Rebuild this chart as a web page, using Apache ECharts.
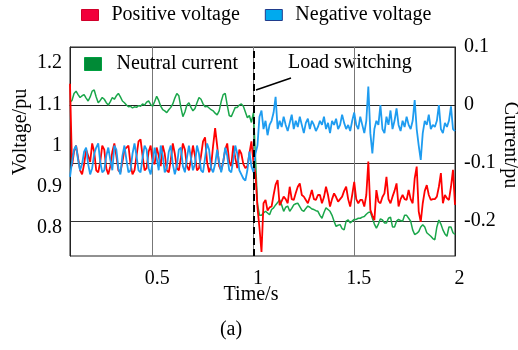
<!DOCTYPE html>
<html><head><meta charset="utf-8">
<script src="https://cdn.jsdelivr.net/npm/echarts@6/dist/echarts.min.js"></script>
<style>html,body{margin:0;padding:0;background:#fff}#c{width:518px;height:350px}</style>
</head><body><div id="c"></div>
<script>
// sampling of the traces (time axis, seconds)
const tStart = 0.09, tStep = 0.01;

const positiveVoltage = [
 1.15,0.95,0.985,1.0,0.97,0.94,0.93,0.955,0.99,0.975,
 0.96,1.005,0.985,0.94,0.935,0.96,1.0,0.99,0.945,0.93,
 0.95,0.985,1.005,0.975,0.94,0.935,0.96,0.99,0.995,1.0,
 0.955,0.93,0.94,0.975,1.01,1.015,0.975,0.94,0.945,0.985,
 1.0,0.96,0.955,0.995,0.975,0.95,1.0,0.98,0.94,0.935,
 0.965,1.005,0.98,0.945,0.94,0.97,1.005,0.99,0.95,0.94,
 0.965,1.0,0.975,0.94,0.945,0.975,1.01,1.02,0.96,0.935,
 0.95,1.0,1.042,1.0,0.95,0.94,0.96,0.99,1.005,0.96,
 0.95,1.0,0.97,0.945,0.99,0.98,0.955,0.945,0.95,0.98,
 1.01,0.96,
 0.93,0.85,0.80,0.742,0.86,0.868,0.842,0.85,0.852,0.88,
 0.905,0.916,0.855,0.865,0.876,0.87,0.86,0.9,0.87,0.868,
 0.885,0.9,0.908,0.88,0.876,0.868,0.86,0.875,0.892,0.87,
 0.868,0.88,0.88,0.86,0.875,0.9,0.88,0.852,0.87,0.884,
 0.875,0.864,0.87,0.876,0.89,0.9,0.87,0.852,0.88,0.912,
 0.87,0.86,0.868,0.868,0.852,0.88,0.961,0.844,0.83,0.819,
 0.892,0.864,0.86,0.875,0.884,0.924,0.87,0.86,0.876,0.89,
 0.908,0.852,0.87,0.88,0.87,0.868,0.892,0.87,0.86,0.92,
 0.949,0.84,0.815,0.86,0.89,0.904,0.88,0.868,0.87,0.87,
 0.876,0.9,0.933,0.86,0.88,0.872,0.868,0.9,0.941,0.856
];

const negativeVoltage = [
 0.924,0.96,0.99,1.0,0.965,0.94,0.955,0.985,0.995,0.955,
 0.93,0.945,0.98,0.995,1.005,0.96,0.935,0.94,0.975,0.995,
 0.965,0.94,1.0,0.99,0.945,0.93,0.975,1.0,0.965,0.935,
 0.94,0.98,1.005,0.975,0.94,0.935,0.97,1.0,0.99,0.945,
 0.93,0.96,0.995,0.97,0.94,1.0,0.975,0.935,0.945,0.985,
 1.0,0.955,0.93,0.95,0.99,0.995,0.95,0.935,0.97,1.0,
 0.97,0.94,0.955,1.0,0.98,0.94,0.935,0.97,1.005,0.99,
 0.945,0.935,0.955,0.99,0.96,0.935,0.96,0.995,0.975,0.94,
 0.935,0.965,1.0,0.98,0.94,0.93,0.92,0.915,0.94,0.985,
 0.95,0.935,
 0.98,1.0,1.07,1.085,1.04,1.06,1.025,1.05,1.06,1.08,
 1.118,1.04,1.06,1.045,1.07,1.05,1.035,1.055,1.075,1.04,
 1.06,1.045,1.07,1.05,1.03,1.055,1.065,1.04,1.06,1.05,
 1.035,1.045,1.06,1.05,1.07,1.04,1.055,1.03,1.06,1.05,
 1.065,1.04,1.05,1.075,1.055,1.04,1.05,1.035,1.06,1.08,
 1.05,1.04,1.07,1.05,1.03,1.06,1.143,1.03,0.981,1.04,
 1.06,1.05,1.098,1.04,1.03,1.07,1.05,1.085,1.04,1.06,
 1.09,1.05,1.035,1.06,1.045,1.07,1.05,1.04,1.06,1.11,
 1.04,1.0,0.965,1.03,1.06,1.05,1.075,1.04,1.05,1.045,
 1.06,1.098,1.04,1.03,1.055,1.045,1.06,1.095,1.04,1.035
];

const neutralCurrent = [
 0.005,0.008,0.02,0.024,0.018,0.013,0.016,0.018,0.012,0.007,
 0.014,0.024,0.026,0.014,0.004,0.008,0.013,0.01,0.004,0.0,
 0.006,0.013,0.01,0.016,0.02,0.014,0.007,0.004,0.0,-0.003,
 -0.002,-0.005,-0.003,-0.004,-0.001,-0.002,0.002,0.0,0.005,0.007,
 0.001,-0.002,0.006,0.015,0.008,-0.002,-0.008,-0.01,-0.013,-0.008,
 -0.004,0.002,0.012,0.02,0.016,-0.004,-0.02,-0.012,0.0,0.004,
 -0.004,-0.01,-0.006,0.004,0.013,0.01,0.002,-0.003,-0.002,-0.005,
 -0.008,-0.01,-0.014,-0.017,-0.01,0.006,0.018,0.02,0.0,-0.018,
 -0.02,-0.012,-0.004,-0.004,0.0,0.002,-0.002,-0.012,-0.022,-0.018,
 -0.03,-0.013,
 -0.09,-0.17,-0.19,-0.19,-0.186,-0.183,-0.186,-0.189,-0.18,-0.177,
 -0.172,-0.168,-0.163,-0.172,-0.183,-0.176,-0.174,-0.183,-0.178,-0.172,
 -0.17,-0.169,-0.175,-0.181,-0.183,-0.178,-0.174,-0.176,-0.179,-0.18,
 -0.182,-0.183,-0.19,-0.195,-0.185,-0.177,-0.18,-0.183,-0.19,-0.2,
 -0.209,-0.207,-0.206,-0.213,-0.215,-0.2,-0.198,-0.203,-0.2,-0.197,
 -0.197,-0.195,-0.195,-0.193,-0.192,-0.188,-0.185,-0.184,-0.195,-0.205,
 -0.212,-0.205,-0.196,-0.198,-0.203,-0.203,-0.195,-0.193,-0.21,-0.21,
 -0.2,-0.197,-0.199,-0.2,-0.19,-0.19,-0.195,-0.2,-0.215,-0.223,
 -0.221,-0.218,-0.21,-0.206,-0.21,-0.22,-0.223,-0.226,-0.23,-0.232,
 -0.21,-0.198,-0.205,-0.215,-0.222,-0.226,-0.21,-0.21,-0.22,-0.223
];

const xTicks = [0.5, 1, 1.5, 2];
const leftTicks = [0.8, 0.9, 1, 1.1, 1.2];
const rightTicks = [0.1, 0, -0.1, -0.2];
const switchTime = 1;

const FONT = "'Liberation Serif','Times New Roman',serif";
function pairs(arr){ return arr.map((v,i)=>[+(tStart + i*tStep).toFixed(2), v]); }

const chart = echarts.init(document.getElementById('c'), null, {renderer:'canvas'});
chart.setOption({
  animation:false,
  backgroundColor:'#fff',
  grid:{left:70,right:63,top:47,bottom:94,show:true,borderColor:'#222',borderWidth:1,backgroundColor:'transparent'},
  legend:[
    {left:76,top:0,icon:'rect',itemWidth:17,itemHeight:11,itemGap:25,selectedMode:false,
     textStyle:{fontSize:20,fontFamily:FONT,color:'#000',padding:[0,0,0,8]},
     data:[
       {name:'Positive voltage',itemStyle:{color:'#f2003c',borderColor:'#d0002a',borderWidth:1}},
       {name:'Negative voltage',itemStyle:{color:'#00aaee',borderColor:'#203c8c',borderWidth:1}}
     ]},
    {left:79,top:49,icon:'rect',itemWidth:17,itemHeight:13,selectedMode:false,
     textStyle:{fontSize:20,fontFamily:FONT,color:'#000',padding:[0,0,0,10]},
     data:[{name:'Neutral current',itemStyle:{color:'#008a36',borderColor:'#00a040',borderWidth:1}}]}
  ],
  xAxis:{type:'value',min:0.09,max:2,
    axisLine:{show:true,lineStyle:{color:'#222',width:1}},
    axisTick:{show:false,customValues:xTicks},
    axisLabel:{customValues:xTicks,fontSize:20,fontFamily:FONT,color:'#000',margin:13,padding:[0,0,0,9]},
    splitLine:{show:true,lineStyle:{color:'#777',width:1}}},
  yAxis:[
    {type:'value',min:0.732,max:1.239,position:'left',
     axisLine:{show:true,lineStyle:{color:'#222',width:1}},
     axisTick:{show:false,customValues:leftTicks},
     axisLabel:{customValues:leftTicks,fontSize:20,fontFamily:FONT,color:'#000',margin:8},
     splitLine:{show:false}},
    {type:'value',min:-0.26,max:0.1,position:'right',
     axisLine:{show:true,lineStyle:{color:'#222',width:1}},
     axisTick:{show:false,customValues:rightTicks},
     axisLabel:{customValues:rightTicks,fontSize:20,fontFamily:FONT,color:'#000',margin:9},
     splitLine:{show:true,lineStyle:{color:'#333',width:1}}}
  ],
  series:[
    {name:'Neutral current',type:'line',yAxisIndex:1,showSymbol:false,
     data:pairs(neutralCurrent),lineStyle:{color:'#1aa64a',width:1.5},itemStyle:{color:'#008a36'}},
    {name:'Positive voltage',type:'line',yAxisIndex:0,showSymbol:false,
     data:pairs(positiveVoltage),lineStyle:{color:'#ff0000',width:1.8},itemStyle:{color:'#f2003c'},
     markLine:{silent:true,symbol:'none',label:{show:false},
       lineStyle:{color:'#000',type:[7,4],width:2},data:[{xAxis:switchTime}]}},
    {name:'Negative voltage',type:'line',yAxisIndex:0,showSymbol:false,
     data:pairs(negativeVoltage),lineStyle:{color:'#1e9cf0',width:1.8},itemStyle:{color:'#00aaee'}}
  ],
  graphic:[
    {type:'text',x:288,y:63,style:{text:'Load switching',font:'20px '+FONT,fill:'#000',align:'left',verticalAlign:'middle',textAlign:'left',textVerticalAlign:'middle'}},
    {type:'line',shape:{x1:256,y1:90,x2:291,y2:78},style:{stroke:'#000',lineWidth:1.5}},
    {type:'text',x:21,y:132,rotation:Math.PI/2,style:{text:'Voltage/pu',font:'20px '+FONT,fill:'#000',align:'center',verticalAlign:'middle',textAlign:'center',textVerticalAlign:'middle'}},
    {type:'text',x:510,y:145,rotation:-Math.PI/2,style:{text:'Current/pu',font:'20px '+FONT,fill:'#000',align:'center',verticalAlign:'middle',textAlign:'center',textVerticalAlign:'middle'}},
    {type:'text',x:251,y:295,style:{text:'Time/s',font:'20px '+FONT,fill:'#000',align:'center',verticalAlign:'middle',textAlign:'center',textVerticalAlign:'middle'}},
    {type:'text',x:231,y:330,style:{text:'(a)',font:'20px '+FONT,fill:'#000',align:'center',verticalAlign:'middle',textAlign:'center',textVerticalAlign:'middle'}}
  ]
});
</script>
</body></html>
